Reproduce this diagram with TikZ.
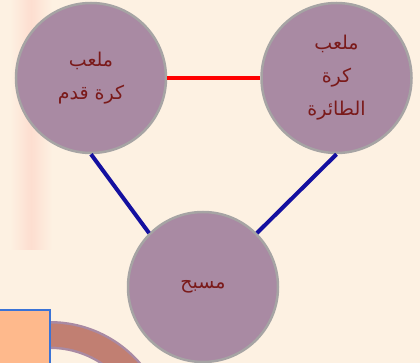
\documentclass[tikz,border=0pt]{standalone}
\usepackage{fontspec}
\newfontfamily\arabicfont[Script=Arabic]{DejaVu Sans}
\TeXXeTstate=1
\usetikzlibrary{positioning}

\definecolor{cream}{HTML}{FDF1E2}
\definecolor{mauve}{HTML}{A98AA3}
\definecolor{rimgray}{HTML}{A6A4A4}
\definecolor{darktext}{HTML}{7A1A1A}
\definecolor{linkblue}{HTML}{1410A0}
\definecolor{boxorange}{HTML}{FEB98C}
\definecolor{boxblue}{HTML}{3B73D6}
\definecolor{bandbrown}{HTML}{C17F72}

\begin{document}
\begin{tikzpicture}[
    x=1pt, y=-1pt,
    field/.style={circle, draw=rimgray, line width=2.5pt, fill=mauve, minimum size=150pt, inner sep=0pt,
                  text=darktext, align=center, font=\arabicfont\fontsize{19}{33}\selectfont},
    redlink/.style={draw=red, line width=4pt},
    bluelink/.style={draw=linkblue, line width=4pt}
]

% background
\fill [cream] (0,0) rectangle (420,363);
\shade [left color=cream, right color=cream, middle color=red!8!cream] (10,0) rectangle (52,250);
\useasboundingbox (0,0) rectangle (420,363);

% bottom left corner pieces
\draw [draw=mauve, line width=28pt] (50,441) ++(-90:106) arc (-90:-20:106);
\draw [draw=bandbrown, line width=23pt] (50,441) ++(-90:106) arc (-90:-20:106);
\filldraw [fill=boxorange, draw=boxblue, line width=2pt] (-5,310) rectangle (50,370);

% Place the nodes
\node [field] (football) at (91,78) {\beginR ملعب\endR\\\beginR كرة قدم\endR};
\node [field, right=93pt of football] (volleyball) {\beginR ملعب\endR\\\beginR كرة\endR\\\beginR الطائرة\endR};
\node [field] (pool) at (203,287) {\beginR مسبح\endR};

% Draw the lines
\path [redlink] (football) -- (volleyball);
\path [bluelink] (football.south) -- (pool.135);
\path [bluelink] (volleyball.south) -- (pool.45);

\end{tikzpicture}
\end{document}
